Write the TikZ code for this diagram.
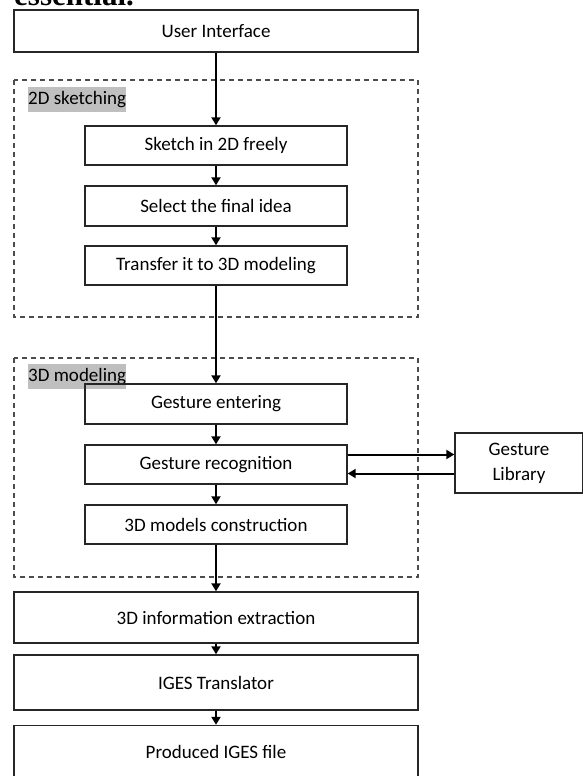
\documentclass[tikz,border=0pt]{standalone}
\usepackage{fontspec}
\setmainfont{Carlito}
\newfontfamily\serifhead{Liberation Serif}
\usetikzlibrary{arrows.meta,calc}
\begin{document}
\begin{tikzpicture}[x=1pt,y=-1pt,
  box/.style={draw=black!85,line width=1.4pt,rectangle,inner sep=0pt,font=\fontsize{19}{23}\selectfont},
  dbox/.style={draw=black!70,line width=1.3pt,dash pattern=on 5pt off 4pt},
  tag/.style={fill=black!25,inner sep=0pt,minimum height=25pt,font=\fontsize{19}{23}\selectfont,anchor=north west},
  arr/.style={line width=2pt,-{Triangle[length=8pt,width=9pt]}}]
\clip (0,0) rectangle (583,776);
\fill[white] (0,0) rectangle (583,776);
\node[anchor=base west,inner sep=0pt,font=\serifhead\bfseries\fontsize{31}{36}\selectfont] (ess) at (14,5.5) {essential.};
% dashed groups
\draw[dbox] (14,80) rectangle (418,317);
\draw[dbox] (14,358) rectangle (418,577);
\node[tag] (t2d) at (28,87) {2D sketching};
\node[tag] (t3d) at (28,364) {3D modeling};
% boxes
\node[box,minimum width=404pt,minimum height=42pt] (ui) at (216,31) {User Interface};
\node[box,minimum width=262pt,minimum height=39pt] (sk) at (216,145.5) {Sketch in 2D freely};
\node[box,minimum width=262pt,minimum height=40pt] (sel) at (216,206) {Select the final idea};
\node[box,minimum width=262pt,minimum height=39pt] (tr) at (216,265.5) {Transfer it to 3D modeling};
\node[box,minimum width=262pt,minimum height=40pt] (ge) at (216,404) {Gesture entering};
\node[box,minimum width=262pt,minimum height=39pt] (gr) at (216,464.5) {Gesture recognition};
\node[box,minimum width=262pt,minimum height=39pt] (mc) at (216,524.5) {3D models construction};
\node[box,minimum width=128pt,minimum height=60pt,align=center,font=\fontsize{19}{25}\selectfont] (gl) at (519,463) {\raisebox{-3pt}{Gesture}\\\raisebox{-3pt}{Library}};
\node[box,minimum width=404pt,minimum height=51pt] (ie) at (216,617.5) {3D information extraction};
\node[box,minimum width=404pt,minimum height=55pt] (it) at (216,682.5) {IGES Translator};
\node[box,minimum width=404pt,minimum height=52pt] (pf) at (216,751.5) {Produced IGES file};
% arrows
\draw[arr] (ui) -- (sk);
\draw[arr] (sk) -- (sel);
\draw[arr] (sel) -- (tr);
\draw[arr] (tr) -- (ge);
\draw[arr] (ge) -- (gr);
\draw[arr] (gr) -- (mc);
\draw[arr] (mc) -- (ie);
\draw[arr] (ie) -- (it);
\draw[arr] (it) -- (pf);
\draw[arr] ([yshift=10pt]gr.east) -- ([yshift=10pt]gr.east -| gl.west);
\draw[arr] ([yshift=-9pt]gr.east -| gl.west) -- ([yshift=-9pt]gr.east);
\end{tikzpicture}
\end{document}
